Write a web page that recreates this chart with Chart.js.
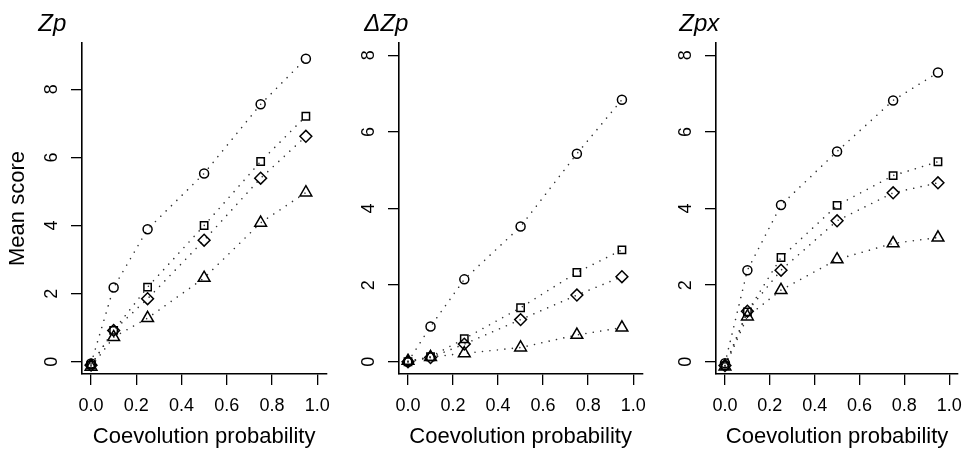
<!DOCTYPE html>
<html>
<head>
<meta charset="utf-8">
<script src="https://cdn.jsdelivr.net/npm/chart.js@4.4.1/dist/chart.umd.min.js"></script>
<style>
html,body{margin:0;padding:0;background:#fff;}
#wrap{position:relative;width:972px;height:450px;overflow:hidden;background:#fff;}
.pane{position:absolute;top:0;height:450px;}
canvas{display:block;}
</style>
</head>
<body>
<div id="wrap">
  <div class="pane" style="left:0px;width:340px"><canvas id="c0" width="340" height="450"></canvas></div>
  <div class="pane" style="left:340px;width:316px"><canvas id="c1" width="316" height="450"></canvas></div>
  <div class="pane" style="left:656px;width:316px"><canvas id="c2" width="316" height="450"></canvas></div>
</div>
<script>
// ---- data ----
const xValues = [0, 0.1, 0.25, 0.5, 0.75, 0.95];
const xTicks = [0, 0.2, 0.4, 0.6, 0.8, 1.0];
const yTicks = [0, 2, 4, 6, 8];
const panelTitles = ['Zp', '\u0394Zp', 'Zpx'];
const xAxisTitle = 'Coevolution probability';
const yAxisTitle = 'Mean score';

const zpCircle   = [-0.05, 2.18, 3.89, 5.53, 7.56, 8.90];
const zpSquare   = [-0.10, 0.92, 2.19, 4.00, 5.88, 7.21];
const zpDiamond  = [-0.10, 0.92, 1.85, 3.57, 5.39, 6.62];
const zpTriangle = [-0.15, 0.72, 1.28, 2.46, 4.08, 4.97];

const dzpCircle   = [0.00, 0.92, 2.15, 3.53, 5.43, 6.84];
const dzpSquare   = [0.00, 0.13, 0.60, 1.41, 2.33, 2.92];
const dzpDiamond  = [0.00, 0.11, 0.46, 1.10, 1.74, 2.22];
const dzpTriangle = [0.02, 0.12, 0.22, 0.37, 0.70, 0.89];

const zpxCircle   = [-0.04, 2.39, 4.09, 5.49, 6.82, 7.55];
const zpxSquare   = [-0.10, 1.30, 2.72, 4.08, 4.86, 5.22];
const zpxDiamond  = [-0.10, 1.32, 2.39, 3.68, 4.41, 4.67];
const zpxTriangle = [-0.13, 1.18, 1.87, 2.67, 3.09, 3.24];

const panelSeries = [
  [zpCircle, zpSquare, zpDiamond, zpTriangle],
  [dzpCircle, dzpSquare, dzpDiamond, dzpTriangle],
  [zpxCircle, zpxSquare, zpxDiamond, zpxTriangle]
];

// ---- styling / layout ----
const FONT = "'Liberation Sans', Arial, Helvetica, sans-serif";
const markers = [
  {style: 'circle', radius: 4.5},
  {style: 'rect', radius: 5.2},
  {style: 'rectRot', radius: 5.9},
  {style: 'triangle', radius: 6.8}
];
const yLimits = [[-0.36, 9.36], [-0.32, 8.32], [-0.32, 8.32]];
const yScaleWidths = [82, 59, 60];
const padRights = [8, 7, 6];
const titleXs = [38.3, 24.3, 23.3];

const panelDecor = {
  id: 'panelDecor',
  afterDraw(chart, args, opts) {
    const ctx = chart.ctx;
    const ys = chart.scales.y;
    const left = chart.chartArea.left;
    ctx.save();
    ctx.fillStyle = '#000';
    ctx.font = '18px ' + FONT;
    ctx.textAlign = 'center';
    ctx.textBaseline = 'alphabetic';
    ys.ticks.forEach(t => {
      const py = ys.getPixelForValue(t.value);
      ctx.save();
      ctx.translate(left - 25.3, py);
      ctx.rotate(-Math.PI / 2);
      ctx.fillText(String(t.value), 0, 0);
      ctx.restore();
    });
    ctx.font = 'italic 24px ' + FONT;
    ctx.textAlign = 'left';
    ctx.fillText(opts.title, opts.titleX, 31);
    ctx.restore();
  }
};

function makeChart(p) {
  const datasets = panelSeries[p].map((arr, k) => ({
    data: xValues.map((x, i) => ({x: x, y: arr[i]})),
    showLine: true,
    borderColor: '#333',
    borderWidth: 1.6,
    borderDash: [0.01, 7.5],
    borderCapStyle: 'round',
    tension: 0,
    pointStyle: markers[k].style,
    pointRadius: markers[k].radius,
    pointHoverRadius: markers[k].radius,
    pointBorderColor: '#000',
    pointBackgroundColor: 'rgba(0,0,0,0)',
    pointBorderWidth: 1.5
  }));
  return new Chart(document.getElementById('c' + p), {
    type: 'scatter',
    data: {datasets},
    options: {
      responsive: false,
      animation: false,
      devicePixelRatio: 1,
      events: [],
      layout: {padding: {top: 43, right: padRights[p], bottom: 0, left: 0}},
      plugins: {
        legend: {display: false},
        tooltip: {enabled: false},
        panelDecor: {title: panelTitles[p], titleX: titleXs[p]}
      },
      scales: {
        x: {
          type: 'linear', position: 'bottom', min: -0.04, max: 1.04,
          afterFit: s => { s.height = 76; },
          afterBuildTicks: s => { s.ticks = xTicks.map(v => ({value: v})); },
          ticks: {
            callback: v => Number(v).toFixed(1),
            font: {family: FONT, size: 18, lineHeight: 1.2},
            color: '#000', padding: 10, maxRotation: 0, minRotation: 0, autoSkip: false
          },
          grid: {display: true, drawOnChartArea: false, drawTicks: true, tickLength: 11, color: '#000', lineWidth: 1.3},
          border: {display: true, color: '#000', width: 1.6},
          title: {display: true, text: xAxisTitle, color: '#000',
                  font: {family: FONT, size: 22, lineHeight: 1}, padding: {top: 0, bottom: 2.5}}
        },
        y: {
          type: 'linear', position: 'left', min: yLimits[p][0], max: yLimits[p][1],
          afterFit: s => { s.width = yScaleWidths[p]; },
          afterBuildTicks: s => { s.ticks = yTicks.map(v => ({value: v})); },
          ticks: {display: false},
          grid: {display: true, drawOnChartArea: false, drawTicks: true, tickLength: 11, color: '#000', lineWidth: 1.3},
          border: {display: true, color: '#000', width: 1.6},
          title: {display: p === 0, text: yAxisTitle, color: '#000',
                  font: {family: FONT, size: 22, lineHeight: 1}, padding: {top: 6.5, bottom: 0}}
        }
      }
    },
    plugins: [panelDecor]
  });
}
[0, 1, 2].forEach(makeChart);
</script>
</body>
</html>
